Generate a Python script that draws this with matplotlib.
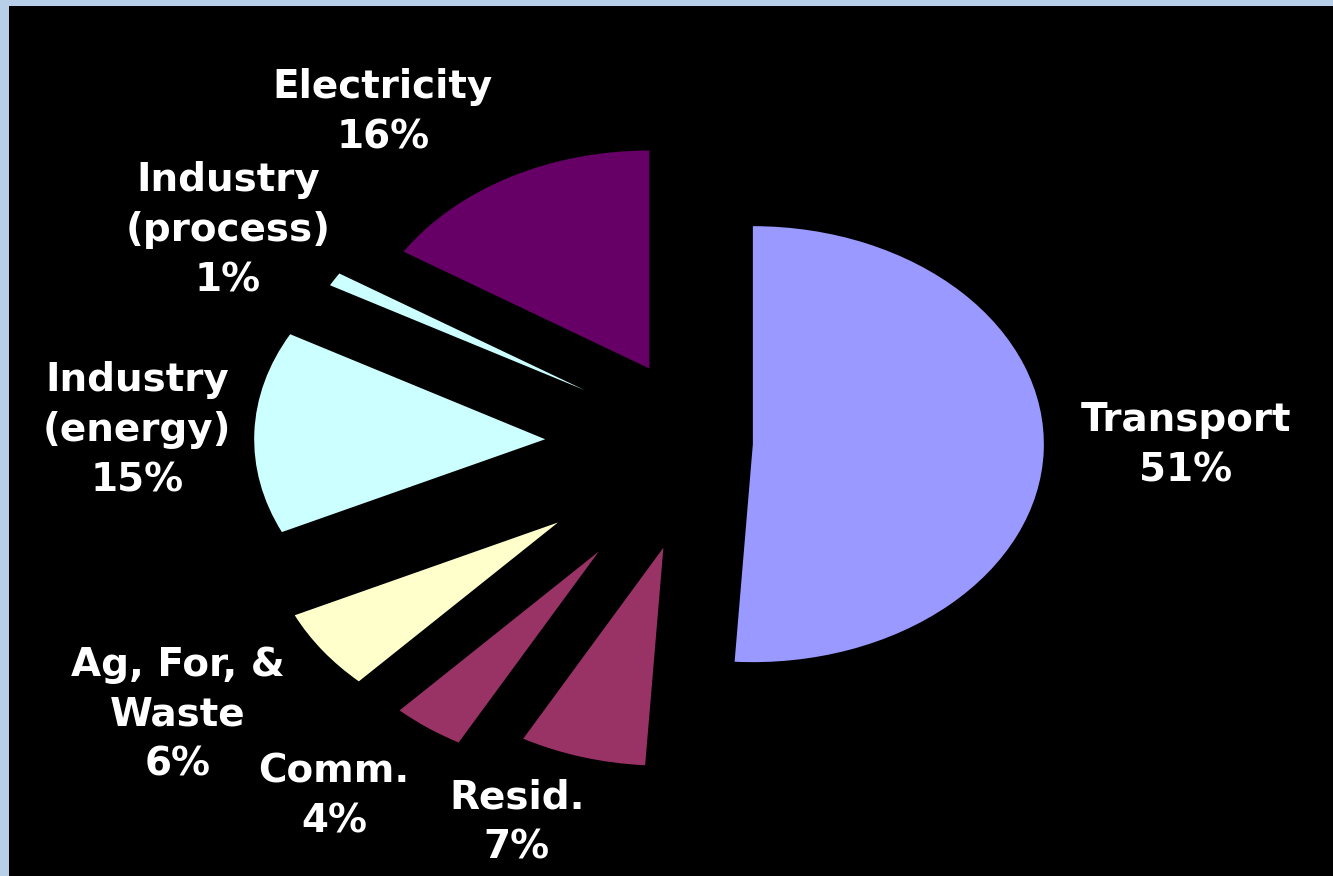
import matplotlib
matplotlib.use('Agg')
import matplotlib.pyplot as plt
from matplotlib.patches import Rectangle

# data, clockwise from 12 o'clock
sectors = ['Transport', 'Resid.', 'Comm.', 'Ag, For, &\nWaste',
           'Industry\n(energy)', 'Industry\n(process)', 'Electricity']
shares = [51, 7, 4, 6, 15, 1, 16]
explode = [0.168, 0.50, 0.615, 0.62, 0.546, 0.475, 0.39]
colors = ['#9999ff', '#993366', '#993366', '#ffffcc', '#ccffff', '#ccffff', '#660066']

# label block centres in figure fractions
label_pos = [(0.8897, 0.4920), (0.3878, 0.0616), (0.2506, 0.0902), (0.1335, 0.1838),
             (0.1028, 0.5091), (0.1710, 0.7374), (0.2873, 0.8721)]

W, H = 1333, 876
fig = plt.figure(figsize=(W / 100, H / 100), dpi=100)
fig.patch.set_facecolor('#b9cfe9')
fig.add_artist(Rectangle((9 / W, 0), 1 - 9 / W, 1 - 6 / H, transform=fig.transFigure,
                         facecolor='black', edgecolor='none', zorder=-1))

ax = fig.add_axes([0, 0, 1, 1])
ax.pie(shares, explode=explode, colors=colors, startangle=90, counterclock=False,
       wedgeprops=dict(linewidth=0))
# the original pie is stretched sideways
ax.set_aspect('auto')
cx, cy, sx, sy = 704, 443, 291, 218
ax.set_xlim(-cx / sx, (W - cx) / sx)
ax.set_ylim((cy - H) / sy, cy / sy)

for name, val, (x, y) in zip(sectors, shares, label_pos):
    fig.text(x, y, f'{name}\n{val}%', ha='center', va='center', ma='center',
             color='white', fontsize=28, fontweight='bold', family='DejaVu Sans',
             linespacing=1.4)

fig.savefig('out.png', dpi=100, facecolor=fig.get_facecolor())
